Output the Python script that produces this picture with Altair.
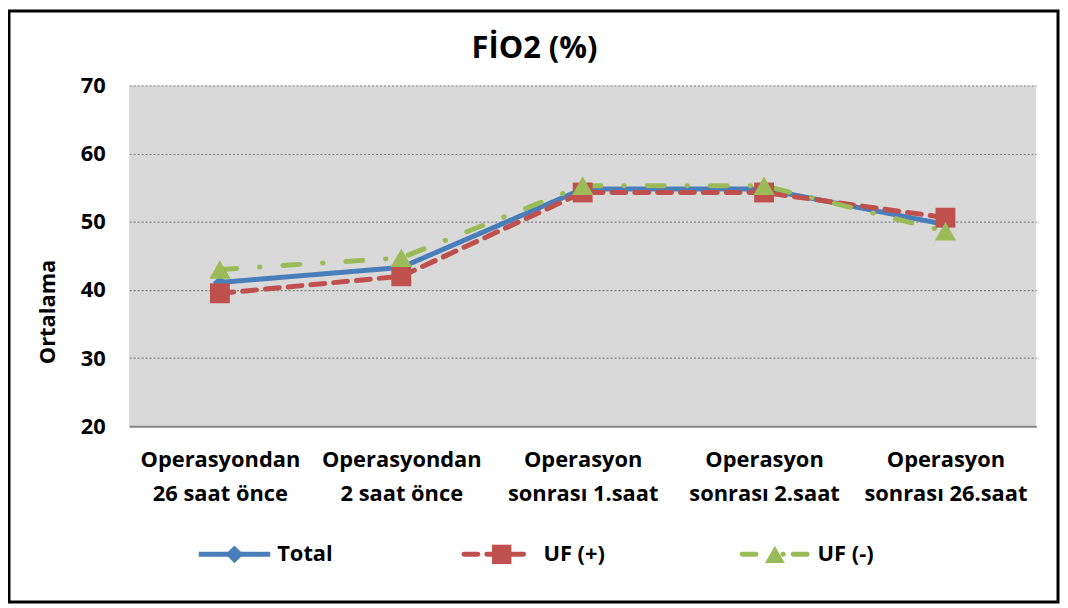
import altair as alt
import pandas as pd

categories = [
    "Operasyondan\n26 saat önce",
    "Operasyondan\n2 saat önce",
    "Operasyon\nsonrası 1.saat",
    "Operasyon\nsonrası 2.saat",
    "Operasyon\nsonrası 26.saat",
]
total = [41.1, 43.3, 54.8, 54.8, 49.6]
uf_plus = [39.5, 42.0, 54.3, 54.3, 50.6]
uf_minus = [43.0, 44.7, 55.3, 55.3, 48.6]
y_ticks = [20, 30, 40, 50, 60, 70]

FONT = "Open Sans"
BLUE = "#4A7EBB"
RED = "#C0504D"
GREEN = "#9BBB59"

RED_DASH = [14, 9]
GREEN_DASH = [17, 23, 0.5, 23]

series = [
    ("Total", total, BLUE, [1, 0], "diamond", 200),
    ("UF (+)", uf_plus, RED, RED_DASH, "square", 400),
    ("UF (-)", uf_minus, GREEN, GREEN_DASH, "triangle-up", 460),
]

W, H = 913, 343

x_enc = alt.X(
    "cat:N",
    sort=categories,
    scale=alt.Scale(type="point", padding=0.5, domain=categories),
    axis=alt.Axis(
        title=None,
        labelExpr="split(datum.label, '\\n')",
        labelAngle=0,
        labelFont=FONT,
        labelFontWeight="bold",
        labelFontSize=22,
        labelColor="black",
        labelPadding=24,
        labelLineHeight=34,
        ticks=False,
        domainColor="#868686",
        domainWidth=2,
        grid=False,
    ),
)
y_enc = alt.Y(
    "val:Q",
    scale=alt.Scale(domain=[20, 70], nice=False, zero=False),
    axis=alt.Axis(
        title=None,
        values=y_ticks,
        labelFont=FONT,
        labelFontWeight="bold",
        labelFontSize=22,
        labelColor="black",
        labelPadding=24,
        ticks=False,
        domain=False,
        grid=True,
        gridColor="#7F7F7F",
        gridDash=[2, 2],
        gridWidth=1.2,
    ),
)

lines = []
points = []
for name, vals, color, dash, shape, size in series:
    df = pd.DataFrame({"cat": categories, "val": vals, "series": name})
    base = alt.Chart(df)
    cap = "butt" if name == "Total" else "round"
    lines.append(
        base.mark_line(color=color, strokeWidth=5, strokeDash=dash, strokeCap=cap).encode(x=x_enc, y=y_enc)
    )
    points.append(
        base.mark_point(shape=shape, filled=True, color=color, size=size, opacity=1).encode(x=x_enc, y=y_enc)
    )

one = pd.DataFrame({"a": [0]})

title = alt.Chart(one).mark_text(
    text="FİO2 (%)", font=FONT, fontWeight="bold", fontSize=31, color="black", baseline="middle", align="center"
).encode(x=alt.value(408), y=alt.value(-37))

ytitle = alt.Chart(one).mark_text(
    text="Ortalama", font=FONT, fontWeight="bold", fontSize=22, color="black", angle=270,
    baseline="middle", align="center"
).encode(x=alt.value(-82), y=alt.value(228))

frame = alt.Chart(one).mark_rect(fillOpacity=0, stroke="black", strokeWidth=3).encode(
    x=alt.value(-121), x2=alt.value(935), y=alt.value(-75), y2=alt.value(520)
)

LY = 472
legend_layers = []
leg_specs = [
    ("Total", BLUE, [1, 0], "diamond", 320, 70, 142, 106, 149),
    ("UF (+)", RED, RED_DASH, "square", 380, 337, 405, 375, 417),
    ("UF (-)", GREEN, [14, 27, 0.5, 10], "triangle-up", 400, 617, 688, 650, 693),
]
for name, color, dash, shape, size, x1, x2, xm, xt in leg_specs:
    cap = "butt" if name == "Total" else "round"
    legend_layers.append(
        alt.Chart(one).mark_rule(color=color, strokeWidth=5, strokeDash=dash, strokeCap=cap).encode(
            x=alt.value(x1), x2=alt.value(x2), y=alt.value(LY)
        )
    )
    legend_layers.append(
        alt.Chart(one).mark_point(shape=shape, filled=True, color=color, size=size, opacity=1).encode(
            x=alt.value(xm), y=alt.value(LY)
        )
    )
    legend_layers.append(
        alt.Chart(one).mark_text(
            text=name, font=FONT, fontWeight="bold", fontSize=22, color="black", align="left", baseline="middle"
        ).encode(x=alt.value(xt), y=alt.value(LY))
    )

chart = alt.layer(*lines, *points, title, ytitle, frame, *legend_layers).properties(
    width=W,
    height=H,
    autosize=alt.AutoSizeParams(type="none"),
    padding={"left": 122, "top": 76, "right": 24, "bottom": 180},
    background="white",
).configure_view(fill="#D9D9D9", stroke=None)

chart.save("out.html", embed_options={"renderer": "svg", "actions": False})
